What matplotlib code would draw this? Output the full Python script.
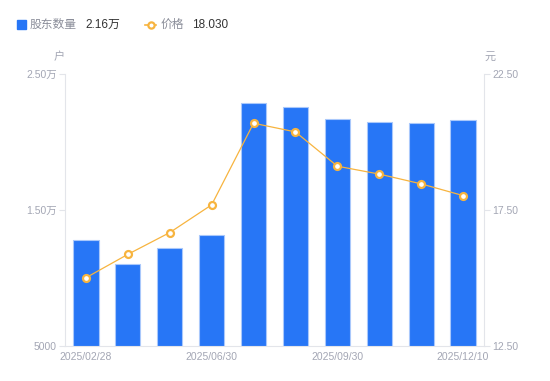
import matplotlib
matplotlib.use('Agg')
import matplotlib.pyplot as plt
from matplotlib.lines import Line2D
from matplotlib.patches import Rectangle
from matplotlib.ticker import FuncFormatter

plt.rcParams['font.family'] = ['Liberation Sans', 'Noto Sans CJK SC']

# data
dates = ['2025/02/28', '2025/03/31', '2025/04/30', '2025/06/30', '2025/07/31',
         '2025/08/29', '2025/09/30', '2025/10/31', '2025/11/28', '2025/12/10']
holders = [12790, 11030, 12180, 13140, 22850, 22570, 21670, 21490, 21380, 21600]
price = [15.01, 15.87, 16.67, 17.69, 20.69, 20.37, 19.11, 18.82, 18.46, 18.03]

blue = '#2776f6'
orange = '#f7b43f'
gray = '#a3a6b4'
axcol = '#e3e5ea'

fig = plt.figure(figsize=(5.5, 3.81), dpi=100)
ax = fig.add_axes([0.1182, 0.0919, 0.7618, 0.7139])
ax2 = ax.twinx()

x = list(range(len(dates)))
ax.bar(x, holders, width=0.6, color=blue, edgecolor='#a9c8fb', linewidth=0.8, zorder=2)
ax2.plot(x, price, color=orange, lw=0.9, marker='o', markersize=5,
         markerfacecolor='white', markeredgecolor=orange, markeredgewidth=1.6, zorder=3)

ax.set_xlim(-0.5, len(dates) - 0.5)
ax.set_ylim(5000, 25000)
ax2.set_ylim(12.5, 22.5)
ax.set_yticks([5000, 15000, 25000])
ax2.set_yticks([12.5, 17.5, 22.5])

def wan(v, pos):
    if v >= 10000:
        return '%.2f万' % (v / 10000)
    return '%d' % v

ax.yaxis.set_major_formatter(FuncFormatter(wan))
ax2.yaxis.set_major_formatter(FuncFormatter(lambda v, p: '%.2f' % v))

ax.set_xticks([0, 3, 6, 9])
ax.set_xticklabels([dates[i] for i in [0, 3, 6, 9]])

for a in (ax, ax2):
    for s in a.spines.values():
        s.set_visible(False)
    a.tick_params(colors=gray, labelsize=7.5, length=4, width=0.8, color=axcol, pad=2)
ax.tick_params(axis='x', length=0, pad=4)
ax.spines['left'].set_visible(True)
ax.spines['left'].set_color(axcol)
ax.spines['bottom'].set_visible(True)
ax.spines['bottom'].set_color(axcol)
ax2.spines['right'].set_visible(True)
ax2.spines['right'].set_color(axcol)

# unit labels
fig.text(59 / 550, 1 - 57 / 381, '户', color=gray, fontsize=8, ha='center', va='center')
fig.text(490 / 550, 1 - 57 / 381, '元', color=gray, fontsize=8, ha='center', va='center')

# legend
ly = 1 - 24.5 / 381
fig.patches.append(Rectangle((17 / 550, 1 - 29 / 381), 9 / 550, 9 / 381,
                             transform=fig.transFigure, color=blue))
fig.text(30 / 550, ly, '股东数量', color='#8a8d99', fontsize=8.5, va='center')
fig.text(85 / 550, ly, '2.16万', color='#333333', fontsize=8.5, va='center')
fig.lines.append(Line2D([145 / 550, 156 / 550], [ly, ly], transform=fig.transFigure,
                        color=orange, lw=1.2))
fig.lines.append(Line2D([150.5 / 550], [ly], transform=fig.transFigure, color=orange,
                        marker='o', markersize=4.5, markerfacecolor='white',
                        markeredgewidth=1.6))
fig.text(161 / 550, ly, '价格', color='#8a8d99', fontsize=8.5, va='center')
fig.text(192 / 550, ly, '18.030', color='#333333', fontsize=8.5, va='center')

fig.savefig('out.png', dpi=100)
